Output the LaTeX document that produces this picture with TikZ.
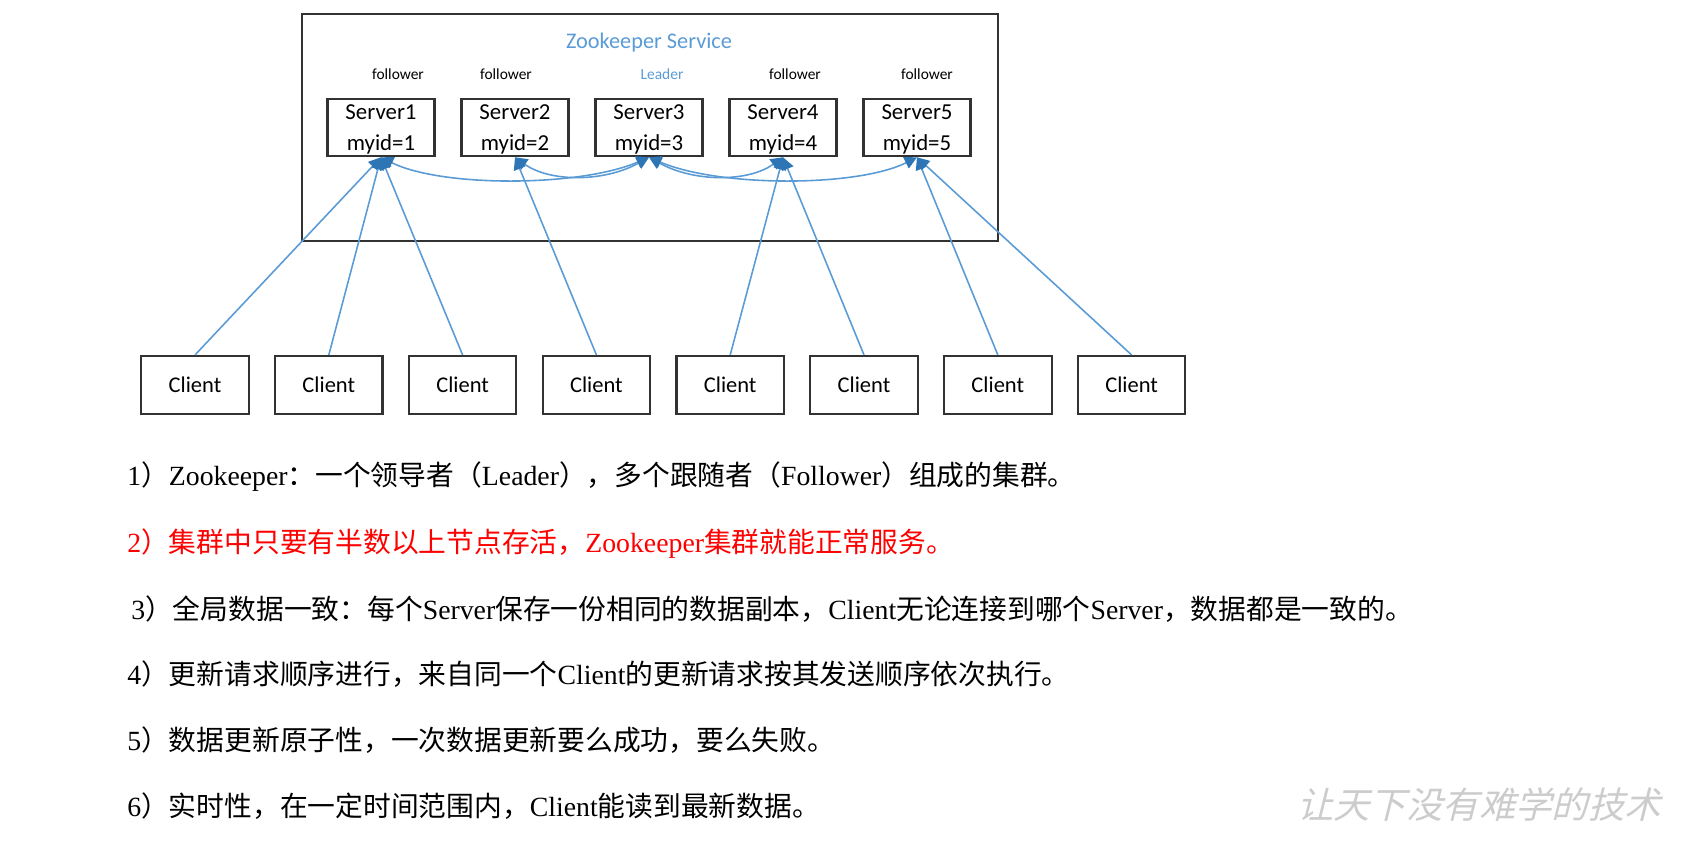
\documentclass[tikz,border=0pt]{standalone}
\usepackage{fontspec}
\setmainfont{Liberation Serif}
\newfontfamily\cjk{Noto Sans CJK SC}
\newfontfamily\diag{Carlito}
\newfontfamily\wmfont[FakeSlant=0.25]{Noto Sans CJK SC}
\usepackage{xcolor}
\usepackage{tikz}
\usetikzlibrary{arrows.meta}
\definecolor{zkblue}{RGB}{91,155,213}
\definecolor{zktip}{RGB}{46,117,182}
\definecolor{zkframe}{RGB}{50,50,50}
\newcommand{\zh}[1]{{\cjk #1}}

\tikzset{
  svcframe/.style={draw=zkframe, line width=1.3pt, minimum width=13.92cm, minimum height=4.54cm, inner sep=0pt},
  srvbox/.style={draw=zkframe, line width=1.2pt, minimum width=2.14cm, minimum height=1.15cm, inner sep=1pt,
    align=center, text depth=0pt, font=\diag\fontsize{13}{17.2}\selectfont},
  clibox/.style={draw=zkframe, line width=1.2pt, minimum width=2.15cm, minimum height=1.16cm, inner sep=1pt,
    font=\diag\fontsize{12.8}{15}\selectfont},
  rolelbl/.style={inner sep=0pt, font=\diag\fontsize{8.8}{10}\selectfont},
  cliline/.style={draw=zkblue, line width=0.9pt, -{Triangle[length=7pt,width=7pt,color=zktip]}},
  peerline/.style={draw=zkblue, line width=0.9pt,
    {Triangle[length=7pt,width=7pt,color=zktip]}-{Triangle[length=7pt,width=7pt,color=zktip]}},
  infoline/.style={anchor=west, inner sep=0pt, font=\fontsize{15.8}{19}\selectfont}
}

\begin{document}
\begin{tikzpicture}[x=0.02cm, y=-0.02cm]
  \useasboundingbox (0,0) rectangle (1702,864);

  % service frame
  \node[svcframe] (svc) at (650,127.5) {};
  \node[font=\diag\fontsize{12.7}{15}\selectfont, text=zkblue] (title) at (649,43) {Zookeeper Service};

  % servers
  \foreach \i/\role/\lx in {1/follower/398,2/follower/506,3/Leader/662,4/follower/795,5/follower/927} {
    \node[srvbox] (s\i) at ({381+134*(\i-1)},127.5) {Server\i\\myid=\i};
    \ifnum\i=3
      \node[rolelbl, text=zkblue] (r\i) at (\lx,74) {\role};
    \else
      \node[rolelbl] (r\i) at (\lx,74) {\role};
    \fi
  }

  % clients
  \foreach \i in {1,...,8}
    \node[clibox] (c\i) at ({195+133.8*(\i-1)},385) {Client};

  \foreach \c/\s in {1/1,2/1,3/1,4/2,5/4,6/4,7/5,8/5}
    \draw[cliline] (c\c.north) -- (s\s.south);

  % leader to followers
  \draw[peerline] (s3.south) .. controls +(-70,30) and +(60,30) .. (s1.south);
  \draw[peerline] (s3.south) .. controls +(-45,25) and +(35,25) .. (s2.south);
  \draw[peerline] (s3.south) .. controls +(45,25) and +(-35,25) .. (s4.south);
  \draw[peerline] (s3.south) .. controls +(70,30) and +(-60,30) .. (s5.south);

  % notes
  \node[infoline] (t1) at (127,477) {1\zh{）}Zookeeper\zh{：一个领导者（}Leader\zh{），多个跟随者（}Follower\zh{）组成的集群。}};
  \node[infoline, text=red] (t2) at (127,544) {2\zh{）集群中只要有半数以上节点存活，}Zookeeper\zh{集群就能正常服务。}};
  \node[infoline] (t3) at (131,609) {3\zh{）全局数据一致：每个}Server\zh{保存一份相同的数据副本，}Client\zh{无论连接到哪个}Server\zh{，数据都是一致的。}};
  \node[infoline] (t4) at (127,674) {4\zh{）更新请求顺序进行，来自同一个}Client\zh{的更新请求按其发送顺序依次执行。}};
  \node[infoline] (t5) at (127,740) {5\zh{）数据更新原子性，一次数据更新要么成功，要么失败。}};
  \node[infoline] (t6) at (127,806) {6\zh{）实时性，在一定时间范围内，}Client\zh{能读到最新数据。}};

  \node[font=\wmfont\fontsize{20.7}{24}\selectfont, text=gray!40] (wm) at (1479,805) {让天下没有难学的技术};
\end{tikzpicture}
\end{document}
